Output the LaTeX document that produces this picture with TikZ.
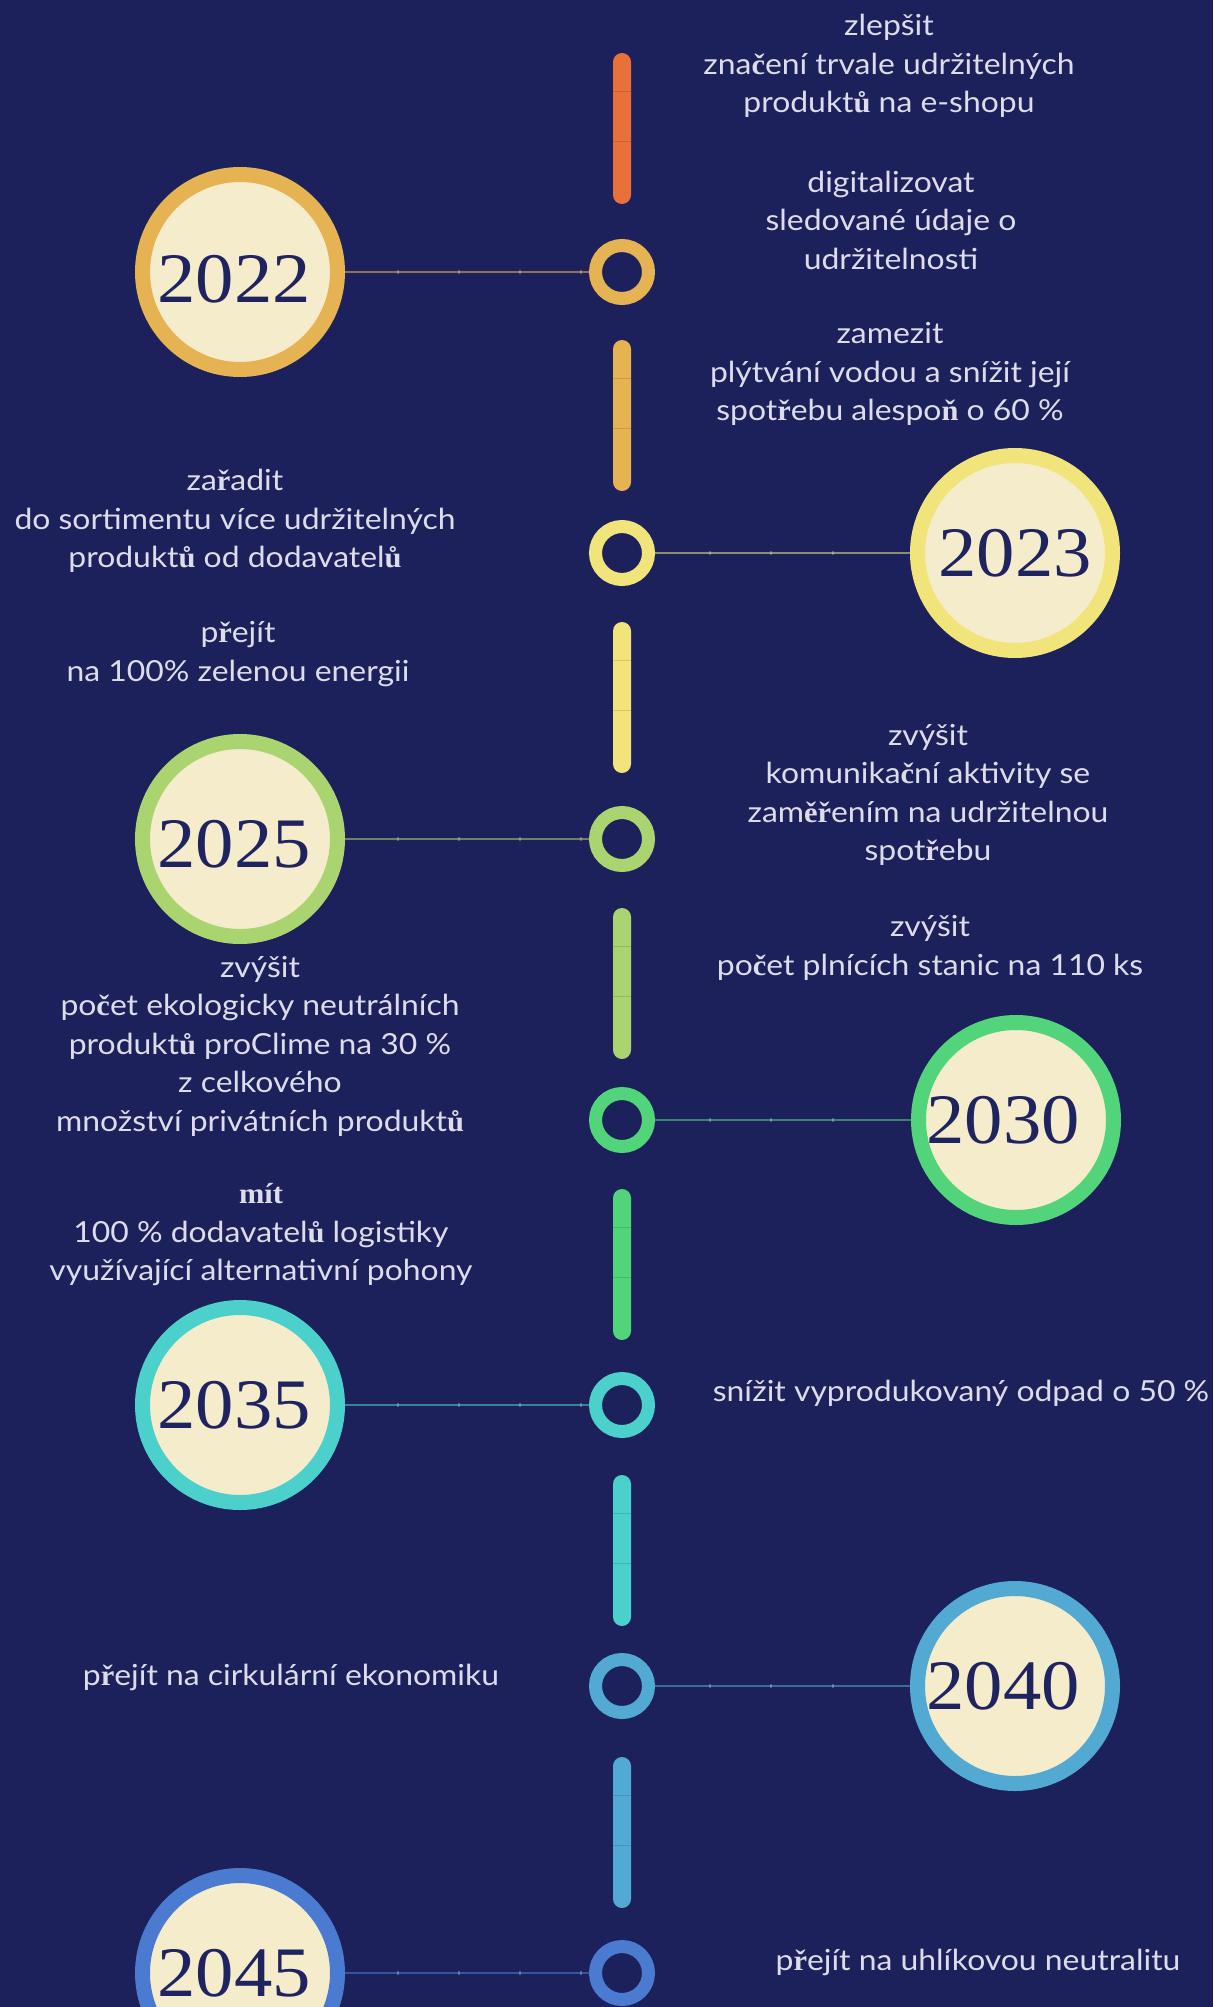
\documentclass[tikz,border=0pt]{standalone}
\usepackage{fontspec}
\setmainfont{Lato}[FakeStretch=1.1]
\newfontfamily\fbk{Liberation Serif}[FakeStretch=1.05]
\newfontfamily\yearfont{Liberation Serif}[FakeStretch=1.08]
\newcommand\fb[1]{{\fbk\bfseries #1}}
\definecolor{bgnavy}{RGB}{29,33,91}
\definecolor{cream}{RGB}{245,236,204}
\definecolor{yeartxt}{RGB}{31,36,96}
\definecolor{lbltxt}{RGB}{220,220,234}
\definecolor{cOrange}{RGB}{232,113,57}
\definecolor{cGold}{RGB}{230,179,82}
\definecolor{cYellow}{RGB}{241,228,122}
\definecolor{cLgreen}{RGB}{169,212,111}
\definecolor{cGreen}{RGB}{82,212,122}
\definecolor{cCyan}{RGB}{75,208,203}
\definecolor{cBlue}{RGB}{82,169,209}
\definecolor{cRoyal}{RGB}{75,123,208}
\tikzset{
  ringnode/.style={circle, minimum size=53pt, line width=13pt, inner sep=0pt},
  yearnode/.style={circle, minimum size=195pt, line width=15pt, inner sep=0pt, fill=cream,
    text=yeartxt, font=\yearfont\fontsize{71}{71}\selectfont},
  barnode/.style={rectangle, rounded corners=9pt, minimum width=18pt, minimum height=151pt, inner sep=0pt, draw=none},
  divline/.style={draw=black, opacity=0.13, line width=1.2pt},
  conn/.style={line width=2.6pt, draw opacity=0.55},
  tick/.style={line width=1.5pt, draw=white, opacity=0.25},
  lbl/.style={text=lbltxt, align=center, inner sep=0pt, font=\fontsize{29}{38.5}\selectfont},
}
\begin{document}
\begin{tikzpicture}[x=1pt, y=-1pt]
\useasboundingbox (0,0) rectangle (1213,2007);
\clip (0,0) rectangle (1213,2007);
\fill[bgnavy] (0,0) rectangle (1213,2007);

% bars
\foreach \t/\c/\n in {53/cOrange/b0, 340/cGold/b1, 622/cYellow/b2, 908/cLgreen/b3, 1189/cGreen/b4, 1475/cCyan/b5, 1757/cBlue/b6}{
  \node[barnode, fill=\c] (\n) at (622,\t+75.5) {};
  \draw[divline] ([yshift=-39pt]\n.north west) -- ([yshift=-39pt]\n.north east);
  \draw[divline] ([yshift=-89pt]\n.north west) -- ([yshift=-89pt]\n.north east);
}

% rings and year circles
\node[ringnode, draw=cGold]   (r2022) at (622,272) {};
\node[ringnode, draw=cYellow] (r2023) at (622,553) {};
\node[ringnode, draw=cLgreen] (r2025) at (622,839) {};
\node[ringnode, draw=cGreen]  (r2030) at (622,1120) {};
\node[ringnode, draw=cCyan]   (r2035) at (622,1405) {};
\node[ringnode, draw=cBlue]   (r2040) at (622,1686) {};
\node[ringnode, draw=cRoyal]  (r2045) at (622,1973) {};

\node[yearnode, draw=cGold]   (y2022) at (240,272) {\hspace*{-12pt}\raisebox{-7pt}[\height][\depth]{2022}};
\node[yearnode, draw=cYellow] (y2023) at (1015,553) {2023};
\node[yearnode, draw=cLgreen] (y2025) at (240,839) {\hspace*{-12pt}\raisebox{-5pt}[\height][\depth]{2025}};
\node[yearnode, draw=cGreen]  (y2030) at (1016,1120) {\hspace*{-26pt}2030};
\node[yearnode, draw=cCyan]   (y2035) at (240,1405) {\hspace*{-12pt}2035};
\node[yearnode, draw=cBlue]   (y2040) at (1015,1686) {\hspace*{-24pt}2040};
\node[yearnode, draw=cRoyal]  (y2045) at (240,1973) {\hspace*{-12pt}2045};

% connectors
\draw[conn, draw=cGold]   (y2022) -- (r2022);
\draw[conn, draw=cYellow] (r2023) -- (y2023);
\draw[conn, draw=cLgreen] (y2025) -- (r2025);
\draw[conn, draw=cGreen]  (r2030) -- (y2030);
\draw[conn, draw=cCyan]   (y2035) -- (r2035);
\draw[conn, draw=cBlue]   (r2040) -- (y2040);
\draw[conn, draw=cRoyal]  (y2045) -- (r2045);

% ticks on connectors
\foreach \r in {r2022, r2025, r2035, r2045}{
  \foreach \d in {41,102,163,224}{
    \draw[tick] ([xshift=-\d pt, yshift=2pt]\r.center) -- ([xshift=-\d pt, yshift=-2pt]\r.center);
  }
}
\foreach \r in {r2023, r2030, r2040}{
  \foreach \d in {88,149,211}{
    \draw[tick] ([xshift=\d pt, yshift=2pt]\r.center) -- ([xshift=\d pt, yshift=-2pt]\r.center);
  }
}

% labels
\node[lbl] (l1) at (889,66) {zlepšit\\zna\fb{č}ení trvale udržitelných\\produkt\fb{ů} na e-shopu};
\node[lbl] (l2) at (891,220) {digitalizovat\\sledované údaje o\\udržitelnosti};
\node[lbl] (l3) at (890,374) {zamezit\\plýtvání vodou a snížit její\\spot\fb{ř}ebu alespo\fb{ň} o 60 \%};
\node[lbl] (l4) at (235,521) {za\fb{ř}adit\\do sortimentu více udržitelných\\produkt\fb{ů} od dodavatel\fb{ů}};
\node[lbl] (l5) at (238,654) {p\fb{ř}ejít\\na 100\% zelenou energii};
\node[lbl] (l6) at (928,795) {zvýšit\\komunika\fb{č}ní aktivity se\\zam\fb{ěř}ením na udržitelnou\\spot\fb{ř}ebu};
\node[lbl] (l7) at (930,948) {zvýšit\\po\fb{č}et plnících stanic na 110 ks};
\node[lbl] (l8) at (260,1046) {zvýšit\\po\fb{č}et ekologicky neutrálních\\produkt\fb{ů} proClime na 30 \%\\z celkového\\množství privátních produkt\fb{ů}};
\node[lbl] (l9) at (261,1235) {\fb{mít}\\100 \% dodavatel\fb{ů} logistiky\\využívající alternativní pohony};
\node[lbl] (l10) at (961,1393) {snížit vyprodukovaný odpad o 50 \%};
\node[lbl] (l11) at (291,1677) {p\fb{ř}ejít na cirkulární ekonomiku};
\node[lbl] (l12) at (978,1962) {p\fb{ř}ejít na uhlíkovou neutralitu};
\end{tikzpicture}
\end{document}
